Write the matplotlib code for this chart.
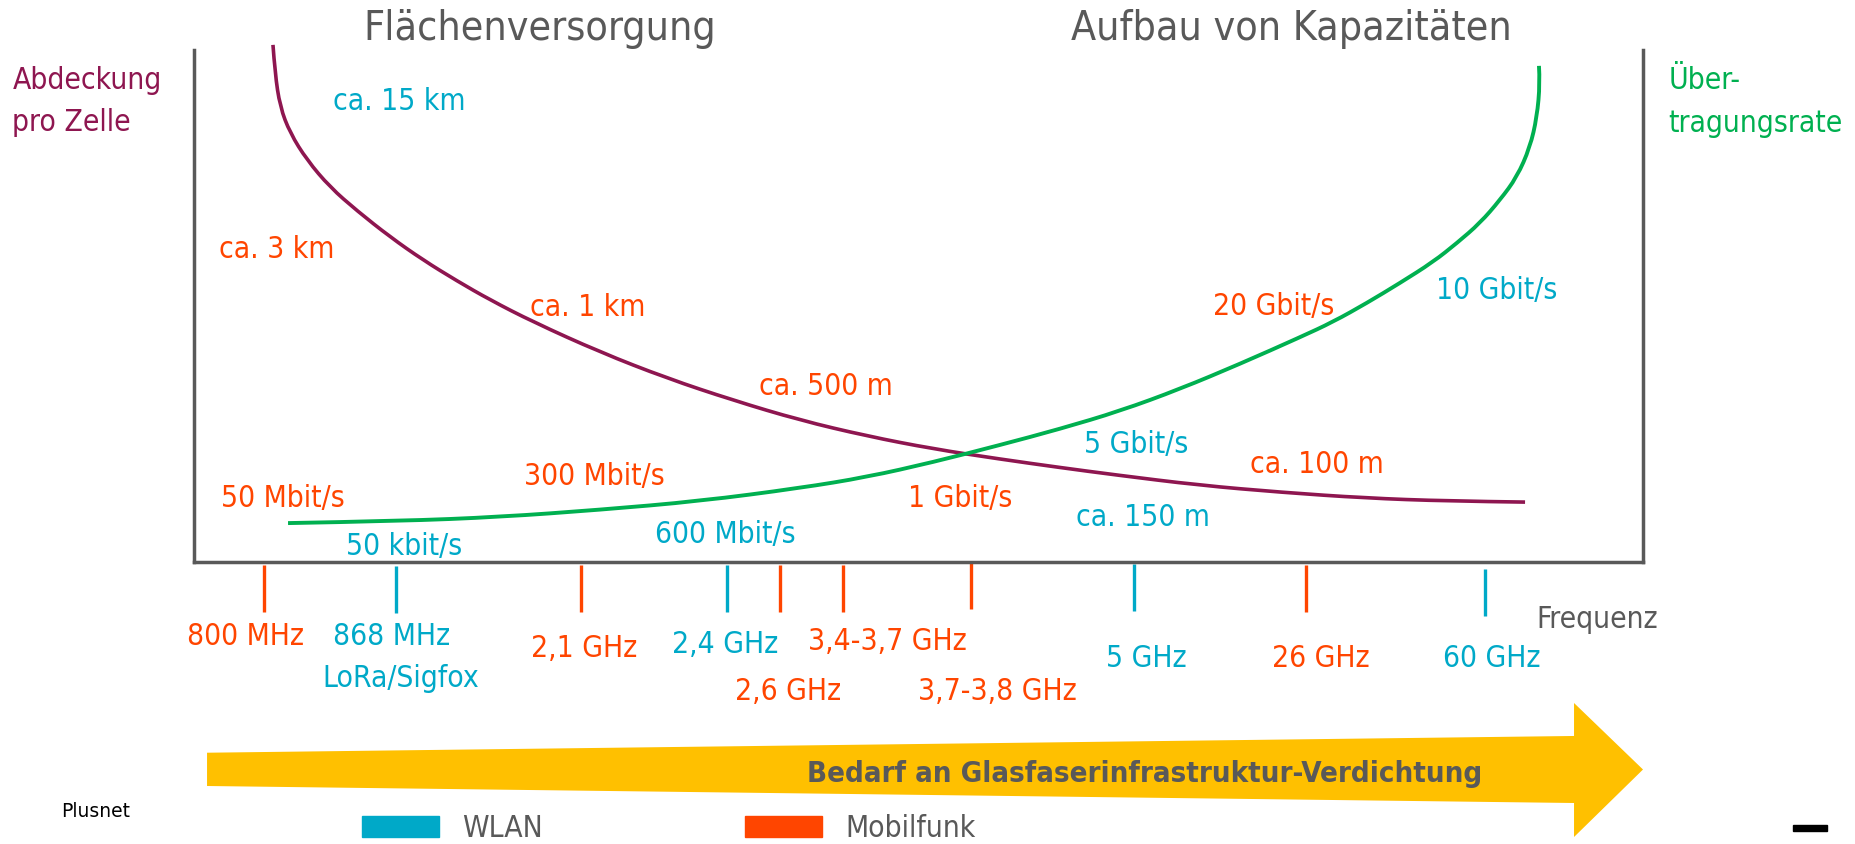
import matplotlib
matplotlib.use("Agg")
import matplotlib.pyplot as plt
from matplotlib import font_manager
from matplotlib.patches import Patch, Rectangle, PathPatch
from matplotlib.path import Path

# schematic units: box runs 0..100 in x (frequency order) and y (coverage / rate)
coverage_x = [5.45, 5.59, 5.94, 6.63, 7.80, 9.39, 11.25, 13.53, 15.80, 18.15, 20.43,
              23.40, 28.02, 32.64, 37.20, 41.82, 46.45, 51.00, 55.63, 59.77, 63.63,
              69.36, 75.09, 80.81, 86.47, 91.86]
coverage_y = [101.0, 95.5, 88.9, 83.8, 78.5, 73.2, 68.6, 63.5, 59.0, 54.9, 51.2,
              46.9, 41.0, 35.9, 31.6, 27.7, 24.6, 22.1, 20.1, 18.45, 17.0,
              15.0, 13.6, 12.5, 11.9, 11.7]

rate_x = [6.49, 14.22, 21.12, 28.02, 34.92, 41.82, 46.45, 51.00, 55.63, 59.77, 63.91,
          68.05, 72.19, 76.33, 78.61, 80.95, 83.23, 85.51, 87.16, 88.75, 90.13,
          91.30, 92.20, 92.68, 92.89, 92.82]
rate_y = [7.6, 8.0, 8.8, 10.2, 11.9, 14.45, 16.6, 19.5, 22.85, 26.0, 29.5,
          33.8, 38.7, 43.9, 46.9, 50.6, 54.5, 58.6, 62.3, 66.2, 70.7,
          75.2, 81.0, 86.9, 93.55, 96.9]

band_names = ["800 MHz", "868 MHz", "2,1 GHz", "2,4 GHz", "2,6 GHz",
              "3,4-3,7 GHz", "3,7-3,8 GHz", "5 GHz", "26 GHz", "60 GHz"]
band_pos = [4.83, 13.91, 26.71, 36.76, 40.44, 44.77, 53.62, 64.87, 76.74, 89.10]
band_kind = ["Mobilfunk", "WLAN", "Mobilfunk", "WLAN", "Mobilfunk",
             "Mobilfunk", "Mobilfunk", "WLAN", "Mobilfunk", "WLAN"]

notes = ["ca. 15 km", "ca. 3 km", "ca. 1 km", "ca. 500 m", "ca. 100 m", "ca. 150 m",
         "50 Mbit/s", "50 kbit/s", "300 Mbit/s", "600 Mbit/s", "1 Gbit/s",
         "5 Gbit/s", "20 Gbit/s", "10 Gbit/s"]
note_kind = ["WLAN", "Mobilfunk", "Mobilfunk", "Mobilfunk", "Mobilfunk", "WLAN",
             "Mobilfunk", "WLAN", "Mobilfunk", "WLAN", "Mobilfunk",
             "WLAN", "Mobilfunk", "WLAN"]

# layout (text anchors, baseline)
note_xy = [(14.15, 88.28), (5.73, 59.38), (27.16, 48.05), (43.62, 32.62),
           (77.50, 17.38), (65.49, 7.03), (6.14, 10.74), (14.49, 1.37),
           (27.61, 15.04), (36.65, 3.71), (52.90, 10.74), (65.04, 21.29),
           (74.50, 48.24), (89.92, 51.37)]
band_label_xy = [(3.52, -16.21), (13.66, -16.21), (26.95, -18.55), (36.68, -17.77),
                 (41.03, -26.95), (47.83, -17.19), (55.42, -26.95), (65.70, -20.51),
                 (77.78, -20.51), (89.55, -20.51)]
band_tick_top = [-0.6, -0.8, -0.6, -0.6, -0.6, -0.6, 0.1, -0.4, -0.6, -1.4]
tick_len = 9.2

CYAN = "#00A9C8"
ORANGE = "#FF4500"
PURPLE = "#8E1650"
GREEN = "#00B050"
GRAY = "#595959"
YELLOW = "#FFC000"
kind_color = {"WLAN": CYAN, "Mobilfunk": ORANGE}

fonts = font_manager.fontManager.ttflist
names = {f.name for f in fonts}
if any(f.name == "DejaVu Sans" and "condensed" in str(f.stretch) for f in fonts):
    plt.rcParams["font.family"] = "DejaVu Sans"
    plt.rcParams["font.stretch"] = "condensed"
    BODY = 21.5
elif "Liberation Sans Narrow" in names:
    plt.rcParams["font.family"] = "Liberation Sans Narrow"
    BODY = 22
else:
    plt.rcParams["font.family"] = "DejaVu Sans"
    BODY = 19.5
TITLE = BODY * 1.37


def smooth(xs, ys):
    # quadratic bezier through the midpoints, read points act as controls
    pts = list(zip(xs, ys))
    verts = [pts[0]]
    codes = [Path.MOVETO]
    for i in range(1, len(pts) - 1):
        if i == len(pts) - 2:
            end = pts[-1]
        else:
            end = ((pts[i][0] + pts[i + 1][0]) / 2, (pts[i][1] + pts[i + 1][1]) / 2)
        verts += [pts[i], end]
        codes += [Path.CURVE3, Path.CURVE3]
    return Path(verts, codes)


def main():
    fig = plt.figure(figsize=(18.56, 8.44), dpi=100)
    ax = fig.add_axes([194 / 1856, 282 / 844, 1449 / 1856, 512 / 844])
    ax.set_xlim(0, 100)
    ax.set_ylim(0, 100)
    ax.set_xticks([])
    ax.set_yticks([])
    ax.patch.set_visible(False)
    ax.spines["top"].set_visible(False)
    for side in ("left", "right", "bottom"):
        ax.spines[side].set_color(GRAY)
        ax.spines[side].set_linewidth(2.5)

    ax.add_patch(PathPatch(smooth(coverage_x, coverage_y), facecolor="none",
                           edgecolor=PURPLE, lw=2.6, clip_on=False, capstyle="butt"))
    ax.add_patch(PathPatch(smooth(rate_x, rate_y), facecolor="none",
                           edgecolor=GREEN, lw=2.8, clip_on=False, capstyle="butt"))

    for s, k, (x, y) in zip(notes, note_kind, note_xy):
        ax.text(x, y, s, color=kind_color[k], fontsize=BODY, ha="center", va="baseline")

    tops = band_tick_top
    bottoms = [t - tick_len for t in tops]
    ax.vlines(band_pos, bottoms, tops, colors=[kind_color[k] for k in band_kind],
              lw=2.4, clip_on=False)
    for s, k, (x, y) in zip(band_names, band_kind, band_label_xy):
        ax.text(x, y, s, color=kind_color[k], fontsize=BODY, ha="center", va="baseline")
    ax.text(14.29, -24.41, "LoRa/Sigfox", color=CYAN, fontsize=BODY,
            ha="center", va="baseline")
    ax.text(92.65, -12.89, "Frequenz", color=GRAY, fontsize=BODY, va="baseline")

    # headings and axis names
    ax.text(23.88, 101.95, "Flächenversorgung", color=GRAY, fontsize=TITLE,
            ha="center", va="baseline")
    ax.text(75.74, 101.95, "Aufbau von Kapazitäten", color=GRAY, fontsize=TITLE,
            ha="center", va="baseline")
    ax.text(-12.53, 92.38, "Abdeckung", color=PURPLE, fontsize=BODY, va="baseline")
    ax.text(-12.53, 84.18, "pro Zelle", color=PURPLE, fontsize=BODY, va="baseline")
    ax.text(101.77, 92.38, "Über-", color=GREEN, fontsize=BODY, va="baseline")
    ax.text(101.77, 83.98, "tragungsrate", color=GREEN, fontsize=BODY, va="baseline")

    # big arrow
    ax.fill([0.90, 95.24, 95.24, 100.0, 95.24, 95.24, 0.90],
            [-37.25, -33.98, -27.54, -40.53, -53.71, -47.07, -43.75],
            color=YELLOW, lw=0, clip_on=False, zorder=0)
    ax.text(65.63, -42.91, "Bedarf an Glasfaserinfrastruktur-Verdichtung",
            color=GRAY, fontsize=BODY * 0.98, fontweight="bold", ha="center",
            va="baseline")

    handles = [Patch(color=CYAN), Patch(color=ORANGE)]
    fig.legend(handles, ["WLAN", "Mobilfunk"], ncol=2, frameon=False,
               fontsize=BODY, labelcolor=GRAY, handlelength=2.58, handleheight=0.70,
               handletextpad=0.76, columnspacing=6.8, borderpad=0, borderaxespad=0,
               loc="lower left", bbox_to_anchor=(362 / 1856, 1 / 844))

    fig.text(61.5 / 1856, (844 - 816.7) / 844, "Plusnet", fontsize=13.5,
             fontstretch="normal", va="baseline", color="black")
    fig.add_artist(Rectangle((1792.7 / 1856, 13 / 844), 34.6 / 1856, 6 / 844,
                             transform=fig.transFigure, color="black"))

    fig.savefig("out.png", dpi=100)


if __name__ == "__main__":
    main()
